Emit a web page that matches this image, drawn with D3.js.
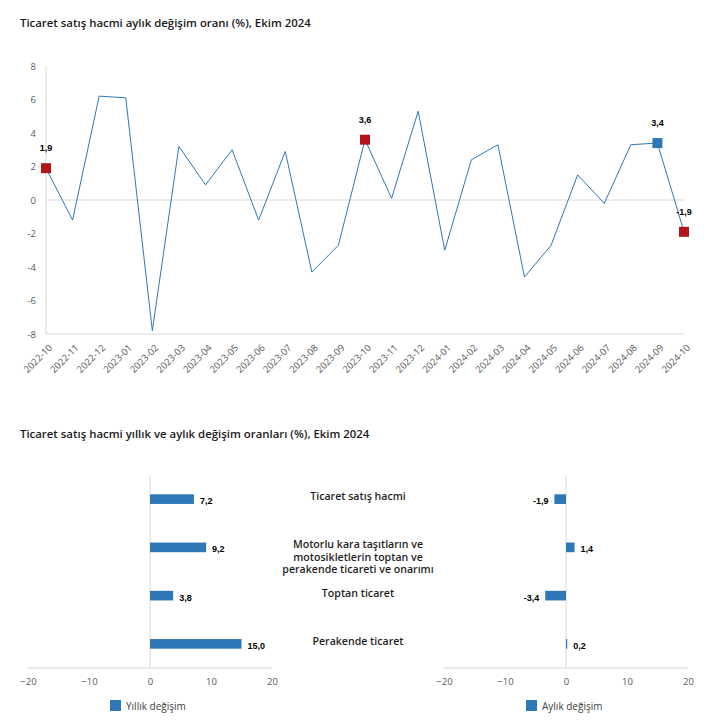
<!DOCTYPE html>
<html><head><meta charset="utf-8">
<script src="https://cdn.jsdelivr.net/npm/d3@7"></script>
<style>
body{margin:0;background:#fff;}
svg{display:block;}
.title{font-family:"Open Sans",sans-serif;font-weight:600;font-size:11.4px;fill:#1a1a1a;}
.tick text{font-family:"Open Sans",sans-serif;font-size:9.5px;fill:#595959;}
.val{font-family:"Liberation Sans",Arial,sans-serif;font-weight:bold;font-size:9px;fill:#000;}
.cat{font-family:"Open Sans",sans-serif;font-weight:600;font-size:10.6px;fill:#1f1f1f;}
.leg{font-family:"Open Sans",sans-serif;font-size:10px;fill:#404040;}
</style></head>
<body>
<svg id="c" width="716" height="728"></svg>
<script>
// ---- data ----
const months = ["2022-10","2022-11","2022-12","2023-01","2023-02","2023-03","2023-04","2023-05","2023-06","2023-07","2023-08","2023-09","2023-10","2023-11","2023-12","2024-01","2024-02","2024-03","2024-04","2024-05","2024-06","2024-07","2024-08","2024-09","2024-10"];
const monthlyValues = [1.9,-1.2,6.2,6.1,-7.8,3.2,0.9,3.0,-1.2,2.9,-4.3,-2.7,3.6,0.1,5.3,-3.0,2.4,3.3,-4.6,-2.7,1.5,-0.2,3.3,3.4,-1.9];
const redMarkers = ["2022-10","2023-10","2024-10"];
const blueMarkers = ["2024-09"];
const yTicks = [-8,-6,-4,-2,0,2,4,6,8];

const categories = ["Ticaret satış hacmi","Motorlu kara taşıtların ve|motosikletlerin toptan ve|perakende ticareti ve onarımı","Toptan ticaret","Perakende ticaret"];
const annualChange = [7.2,9.2,3.8,15.0];
const monthlyChange = [-1.9,1.4,-3.4,0.2];
const barTicks = [-20,-10,0,10,20];
const title1 = "Ticaret satış hacmi aylık değişim oranı (%), Ekim 2024";
const title2 = "Ticaret satış hacmi yıllık ve aylık değişim oranları (%), Ekim 2024";
const legend1 = "Yıllık değişim";
const legend2 = "Aylık değişim";

const BLUE = "#2f78b7", RED = "#b3141c", GRID = "#d9d9d9";
const fmt = v => v.toFixed(1).replace(".", ",");
const svg = d3.select("#c");

// ---- line chart ----
svg.append("text").attr("class","title").attr("x",20).attr("y",27).text(title1);
const x = d3.scalePoint().domain(months).range([46,684]);
const y = d3.scaleLinear().domain([-8,8]).range([334,66]);
const g1 = svg.append("g");
g1.append("line").attr("x1",46).attr("x2",46).attr("y1",y(8)).attr("y2",y(-8)).attr("stroke",GRID);
g1.append("line").attr("x1",46).attr("x2",684).attr("y1",y(-8)).attr("y2",y(-8)).attr("stroke",GRID);
g1.append("line").attr("x1",46).attr("x2",684).attr("y1",y(0)).attr("y2",y(0)).attr("stroke",GRID);
const ya = g1.append("g").attr("transform","translate(36,0)")
  .call(d3.axisLeft(y).tickValues(yTicks).tickSize(0).tickPadding(0).tickFormat(d=>d));
ya.select(".domain").remove();
const xa = g1.append("g").attr("transform",`translate(0,${y(-8)})`)
  .call(d3.axisBottom(x).tickSize(0).tickPadding(0));
xa.select(".domain").remove();
xa.selectAll("text").attr("text-anchor","end").attr("dy","0.35em")
  .attr("transform","translate(4,12) rotate(-45)");
g1.append("path").datum(monthlyValues)
  .attr("fill","none").attr("stroke",BLUE).attr("stroke-width",1)
  .attr("d", d3.line().x((d,i)=>x(months[i])).y(d=>y(d)));
const markers = months.map((m,i)=>({m,v:monthlyValues[i]}))
  .filter(d=>redMarkers.includes(d.m)||blueMarkers.includes(d.m));
g1.selectAll("rect.mk").data(markers).join("rect")
  .attr("x",d=>x(d.m)-5).attr("y",d=>y(d.v)-5).attr("width",10).attr("height",10)
  .attr("fill",d=>redMarkers.includes(d.m)?RED:BLUE);
g1.selectAll("text.mv").data(markers).join("text").attr("class","val")
  .attr("x",d=>x(d.m)).attr("y",d=>y(d.v)-17).attr("text-anchor","middle").text(d=>fmt(d.v));

// ---- bar charts ----
svg.append("text").attr("class","title").attr("x",20).attr("y",438).text(title2);
const band = d3.scaleBand().domain(categories).range([475,668]).paddingInner(0.8).paddingOuter(0.4);
function barChart(values, x0, x1, legendText, legX){
  const xs = d3.scaleLinear().domain([-20,20]).range([x0,x1]);
  const g = svg.append("g");
  g.append("line").attr("x1",x0).attr("x2",x1).attr("y1",668).attr("y2",668).attr("stroke",GRID);
  g.append("line").attr("x1",xs(0)).attr("x2",xs(0)).attr("y1",475).attr("y2",668).attr("stroke",GRID);
  const ax = g.append("g").attr("transform","translate(0,678)")
    .call(d3.axisBottom(xs).tickValues(barTicks).tickSize(0).tickPadding(0));
  ax.select(".domain").remove();
  g.selectAll("rect.b").data(values).join("rect")
    .attr("x",d=>xs(Math.min(0,d))).attr("width",d=>Math.abs(xs(d)-xs(0)))
    .attr("y",(d,i)=>band(categories[i])).attr("height",band.bandwidth())
    .attr("fill",BLUE);
  g.selectAll("text.v").data(values).join("text").attr("class","val")
    .attr("x",d=>d>=0?xs(d)+6:xs(d)-6).attr("text-anchor",d=>d>=0?"start":"end")
    .attr("y",(d,i)=>band(categories[i])+band.bandwidth()/2+5).text(d=>fmt(d));
  g.append("rect").attr("x",legX).attr("y",700).attr("width",11).attr("height",11).attr("fill",BLUE);
  g.append("text").attr("class","leg").attr("x",legX+16).attr("y",709.5).text(legendText);
}
barChart(annualChange, 28, 272, legend1, 110);
barChart(monthlyChange, 444, 688, legend2, 526);

// category labels
categories.forEach(c=>{
  const lines = c.split("|");
  const cy = band(c)+band.bandwidth()/2 - 3;
  lines.forEach((l,j)=>{
    svg.append("text").attr("class","cat").attr("x",358).attr("y",cy+j*12.5+4)
      .attr("text-anchor","middle").text(l);
  });
});
</script>
</body></html>
